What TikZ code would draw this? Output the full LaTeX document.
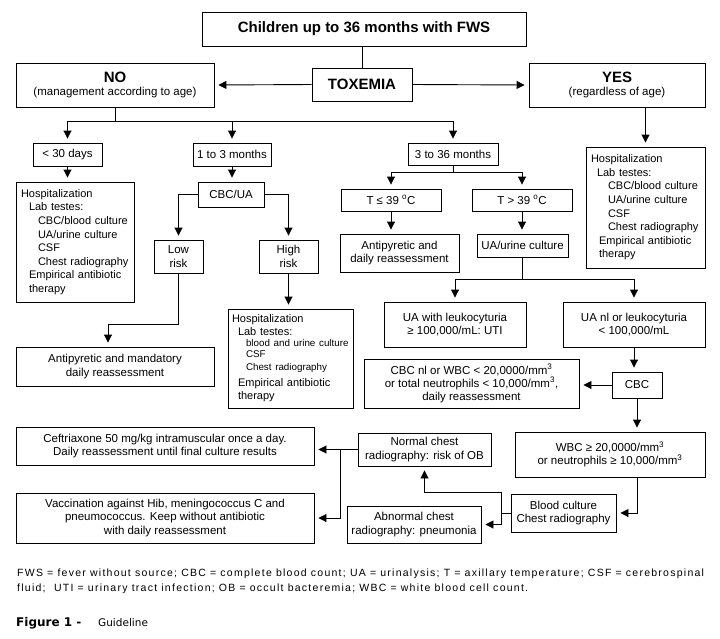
\documentclass[tikz,border=0pt]{standalone}
\usepackage{fontspec}
\setmainfont{Liberation Sans}
\newfontfamily\capfont{DejaVu Sans}
\newfontfamily\fnfont[LetterSpace=12]{Liberation Sans}
\usetikzlibrary{arrows.meta,calc}
\newcommand\mainsz{\fontsize{11.5}{13.3}\selectfont}
\newcommand\hospsz{\fontsize{11}{13.6}\selectfont}
\newcommand\bigsz{\fontsize{15}{17}\selectfont}
\newcommand\smallsz{\fontsize{9.8}{11.5}\selectfont}
\newcommand\degsup{\textsuperscript{o}}
\begin{document}
\begin{tikzpicture}[x=1pt,y=-1pt,
  box/.style={draw, line width=0.9pt, inner sep=0pt, align=center, font=\mainsz},
  lbox/.style={box, align=left, inner xsep=4pt, font=\hospsz},
  arr/.style={-{Triangle[length=8pt,width=8pt]}, shorten >=4pt, line width=0.9pt},
  ln/.style={line width=0.9pt}]
\useasboundingbox (0,0) rectangle (720,638);

% nodes
\node[box, minimum width=324pt, minimum height=34pt, font=\bigsz\bfseries] (title) at (364,29) {Children up to 36 months with FWS};
\node[box, minimum width=100pt, minimum height=33pt, font=\bigsz\bfseries] (tox) at (362,84.5) {TOXEMIA};
\node[box, minimum width=198pt, minimum height=44pt] (no) at (115,85) {{\bigsz\bfseries NO}\\[-1pt](management according to age)};
\node[box, minimum width=176pt, minimum height=44pt] (yes) at (617,85) {{\bigsz\bfseries YES}\\[-1pt](regardless of age)};

\node[box, minimum width=69pt, minimum height=23pt] (d30) at (67.5,154.5) {< 30 days};
\node[box, minimum width=78pt, minimum height=23pt] (m13) at (232,154.5) {1 to 3 months};
\node[box, minimum width=90pt, minimum height=22pt] (m336) at (453,154) {3 to 36 months};

\node[lbox, minimum width=118pt, minimum height=120pt, text width=110pt] (hosp1) at (75,242)
 {\hspace*{1pt}Hospitalization\\
  \hspace*{9pt}Lab testes:\\
  \hspace*{18pt}CBC/blood culture\\
  \hspace*{18pt}UA/urine culture\\
  \hspace*{18pt}CSF\\
  \hspace*{18pt}Chest radiography\\
  \hspace*{9pt}Empirical antibiotic\\
  \hspace*{9pt}therapy};

\node[lbox, minimum width=119pt, minimum height=121pt, text width=111pt] (hospY) at (645.5,207.5)
 {\hspace*{1pt}Hospitalization\\
  \hspace*{7pt}Lab testes:\\
  \hspace*{18pt}CBC/blood culture\\
  \hspace*{18pt}UA/urine culture\\
  \hspace*{18pt}CSF\\
  \hspace*{18pt}Chest radiography\\
  \hspace*{9pt}Empirical antibiotic\\
  \hspace*{9pt}therapy};

\node[box, minimum width=66pt, minimum height=25pt] (cbcua) at (231,194.5) {CBC/UA};
\node[box, minimum width=49pt, minimum height=33pt] (low) at (178.5,256.5) {Low\\risk};
\node[box, minimum width=59pt, minimum height=33pt] (high) at (288.5,256.5) {High\\risk};
\node[box, minimum width=198pt, minimum height=39pt] (antimand) at (115,366.5) {Antipyretic and mandatory\\daily reassessment};

\node[lbox, inner xsep=3pt, minimum width=125pt, minimum height=99pt, text width=119pt, font=\fontsize{11}{13}\selectfont] (hosp2) at (290.5,358.5)
 {\hspace*{1pt}Hospitalization\\
  \hspace*{7pt}Lab testes:\\[-1pt]
  {\smallsz\hspace*{15pt}blood and urine culture\\
  \hspace*{15pt}CSF\\
  \hspace*{15pt}Chest radiography}\\[3pt]
  \hspace*{7pt}Empirical antibiotic\\
  \hspace*{7pt}therapy};

\node[box, minimum width=100pt, minimum height=22pt] (tle) at (391,200) {T ≤ 39 \degsup C};
\node[box, minimum width=100pt, minimum height=22pt] (tgt) at (522,200) {T > 39 \degsup C};
\node[box, minimum width=119pt, minimum height=38pt] (antid) at (399.5,253) {Antipyretic and\\daily reassessment};
\node[box, minimum width=91pt, minimum height=23pt] (uac) at (522.5,245.5) {UA/urine culture};
\node[box, minimum width=142pt, minimum height=45pt] (uaw) at (455,324.5) {UA with leukocyturia\\≥ 100,000/mL: UTI};
\node[box, minimum width=142pt, minimum height=45pt] (uanl) at (634,324.5) {UA nl or leukocyturia\\< 100,000/mL};
\node[box, minimum width=50pt, minimum height=26pt] (cbc) at (637,385) {CBC};
\node[box, minimum width=215pt, minimum height=49pt] (cbcnl) at (471.5,383.5) {CBC nl or WBC < 20,0000/mm\textsuperscript{3}\\or total neutrophils < 10,000/mm\textsuperscript{3},\\daily reassessment};
\node[box, minimum width=190pt, minimum height=45pt] (wbc) at (610,454.5) {WBC ≥ 20,0000/mm\textsuperscript{3}\\or neutrophils ≥ 10,000/mm\textsuperscript{3}};
\node[box, minimum width=105pt, minimum height=38pt] (bc) at (563.5,513) {Blood culture\\Chest radiography};
\node[box, minimum width=133pt, minimum height=33pt] (normal) at (424.5,449.5) {Normal chest\\radiography: risk of OB};
\node[box, minimum width=134pt, minimum height=37pt] (abn) at (414,524.5) {Abnormal chest\\radiography: pneumonia};
\node[box, minimum width=298pt, minimum height=38pt] (ceft) at (165,446) {Ceftriaxone 50 mg/kg intramuscular once a day.\\Daily reassessment until final culture results};
\node[box, minimum width=298pt, minimum height=50pt] (vacc) at (165,518) {Vaccination against Hib, meningococcus C and\\pneumococcus. Keep without antibiotic\\with daily reassessment};

% footnote and caption
\node[anchor=west, inner sep=0pt, font=\fnfont\fontsize{10.5}{13}\selectfont] (fn1) at (17,574) {FWS = fever without source; CBC = complete blood count; UA = urinalysis; T = axillary temperature; CSF = cerebrospinal};
\node[anchor=west, inner sep=0pt, font=\fnfont\fontsize{10.5}{13}\selectfont] (fn2) at (17,589) {fluid;\ \ UTI = urinary tract infection; OB = occult bacteremia; WBC = white blood cell count.};
\node[anchor=west, inner sep=0pt, font=\capfont\bfseries\fontsize{12}{14}\selectfont] (cap1) at (16,623) {Figure 1 -};
\node[anchor=west, inner sep=0pt, font=\capfont\fontsize{10.5}{13}\selectfont] (cap2) at (98,623) {Guideline};

% connectors
\draw[ln] (tox.north) -- (tox.north |- title.south);
\draw[arr] (tox.west) -- (no.east);
\draw[arr] (tox.east) -- (yes.west);
\coordinate (busA) at (0,121);
\draw[ln] (no.south) -- (no.south |- busA);
\draw[ln] (d30.north |- busA) -- (m336.north |- busA);
\draw[arr] (d30.north |- busA) -- (d30.north);
\draw[arr] (m13.north |- busA) -- (m13.north);
\draw[arr] (m336.north |- busA) -- (m336.north);
\draw[arr] (hospY.north |- yes.south) -- (hospY.north);
\draw[arr] (d30.south) -- (d30.south |- hosp1.north);
\draw[arr] (m13.south) -- (m13.south |- cbcua.north);
\draw[arr] (cbcua.west) -| (low.north);
\draw[arr] (cbcua.east) -| (high.north);
\coordinate (busL) at (0,324);
\draw[arr] (low.south) -- (low.south |- busL) -| ($(antimand.north)+(-7,0)$);
\draw[arr] (high.south) -- (high.south |- hosp2.north);
\coordinate (busB) at (0,172);
\draw[ln] (m336.south) -- (m336.south |- busB);
\draw[ln] (tle.north |- busB) -- (tgt.north |- busB);
\draw[arr] (tle.north |- busB) -- (tle.north);
\draw[arr] (tgt.north |- busB) -- (tgt.north);
\draw[arr] (tle.south) -- (tle.south |- antid.north);
\draw[arr] (tgt.south) -- (tgt.south |- uac.north);
\coordinate (busC) at (0,279);
\draw[ln] (uac.south) -- (uac.south |- busC);
\draw[ln] (uaw.north |- busC) -- (uanl.north |- busC);
\draw[arr] (uaw.north |- busC) -- (uaw.north);
\draw[arr] (uanl.north |- busC) -- (uanl.north);
\draw[arr] (uanl.south) -- (uanl.south |- cbc.north);
\draw[arr] (cbc.west) -- (cbc.west -| cbcnl.east);
\draw[arr] (cbc.south) -- (cbc.south |- wbc.north);
\draw[arr] (cbc.south |- wbc.south) |- (bc.east);
\coordinate (j) at (501,513);
\draw[ln] (bc.west) -- (j);
\draw[arr] (j) -- (j |- 0,492) -| (normal.south);
\draw[arr] (j) |- (abn.east);
\coordinate (k) at (340,449.5);
\draw[arr] (normal.west) -- (normal.west -| ceft.east);
\draw[arr] (k) |- (vacc.east);
\end{tikzpicture}
\end{document}
